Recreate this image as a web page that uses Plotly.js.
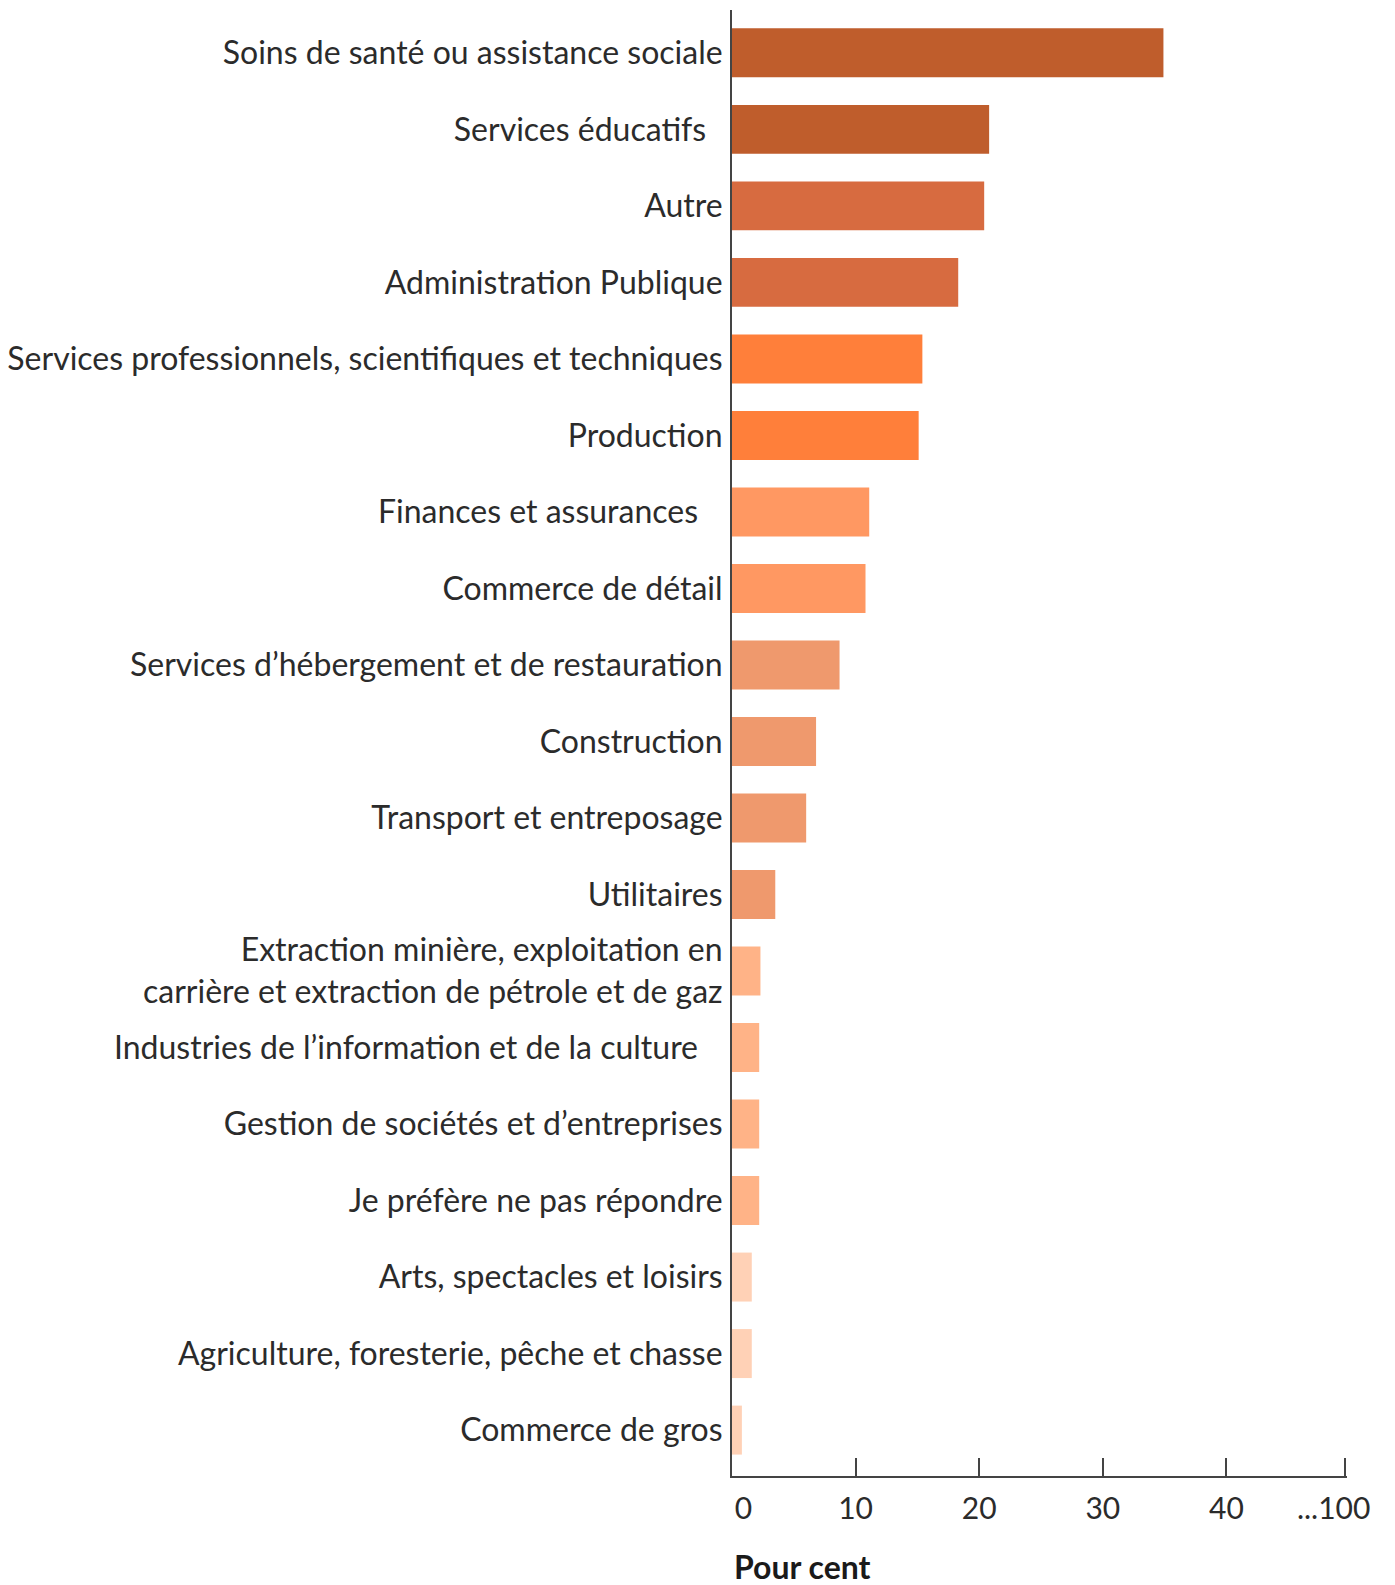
<!DOCTYPE html>
<html>
<head>
<meta charset="utf-8">
<script src="https://cdn.plot.ly/plotly-3.0.1.min.js"></script>
<style>
  html, body { margin: 0; padding: 0; background: #ffffff; }
  #chart { width: 1395px; height: 1585px; }
</style>
</head>
<body>
<div id="chart"></div>
<script>
// ---- Data ----
const categories = [
  "Soins de santé ou assistance sociale",
  "Services éducatifs",
  "Autre",
  "Administration Publique",
  "Services professionnels, scientifiques et techniques",
  "Production",
  "Finances et assurances",
  "Commerce de détail",
  "Services d’hébergement et de restauration",
  "Construction",
  "Transport et entreposage",
  "Utilitaires",
  "Extraction minière, exploitation en<br>carrière et extraction de pétrole et de gaz",
  "Industries de l’information et de la culture",
  "Gestion de sociétés et d’entreprises",
  "Je préfère ne pas répondre",
  "Arts, spectacles et loisirs",
  "Agriculture, foresterie, pêche et chasse",
  "Commerce de gros"
];

const values = [34.9, 20.8, 20.4, 18.3, 15.4, 15.1, 11.1, 10.8, 8.7, 6.8, 6.0, 3.5, 2.3, 2.2, 2.2, 2.2, 1.6, 1.6, 0.8];

const xTickValues = [0, 10, 20, 30, 40, 49.6];
const xTickLabels = ["0", "10", "20", "30", "40", "...100"];

const xAxisTitle = "Pour cent";

// ---- Styles ----
const barColors = [
  "#BF5D2C", "#BF5D2C",
  "#D76B40", "#D76B40",
  "#FF7F3A", "#FF7F3A",
  "#FF9862", "#FF9862",
  "#EF996D", "#EF996D", "#EF996D", "#EF996D",
  "#FFB387", "#FFB387", "#FFB387", "#FFB387",
  "#FFD1B6", "#FFD1B6", "#FFD1B6"
];

// small offsets of some labels, as in the original
const NB = "\u00A0";
const labelPad = {
  "Services éducatifs": NB + NB,
  "Finances et assurances": NB + NB + NB,
  "Industries de l’information et de la culture": NB + NB + NB
};
const yTickText = categories.map(c => c + (labelPad[c] || ""));
const xTickText = xTickLabels.map((t, i) =>
  i === 0 ? NB + NB + NB + t : (i === xTickLabels.length - 1 ? t + NB + NB + NB : t));

const FONT = "Lato, 'Open Sans', sans-serif";

const trace = {
  type: "bar",
  orientation: "h",
  y: categories,
  x: values,
  marker: { color: barColors, line: { width: 0 } },
  hoverinfo: "x+y"
};

const layout = {
  width: 1395,
  height: 1585,
  margin: { l: 732, r: 48, t: 10, b: 109 },
  paper_bgcolor: "#ffffff",
  plot_bgcolor: "#ffffff",
  showlegend: false,
  bargap: 0.36,
  font: { family: FONT, color: "#2b2b2b", size: 32 },
  xaxis: {
    range: [0, 49.75],
    tickmode: "array",
    tickvals: xTickValues,
    ticktext: xTickText,
    ticks: "inside",
    ticklen: 18,
    tickwidth: 2,
    tickcolor: "#444",
    showline: true,
    linecolor: "#444",
    linewidth: 2,
    showgrid: false,
    zeroline: false,
    tickfont: { family: FONT, size: 30, color: "#2b2b2b" },
    ticklabelstandoff: 5,
    ticklabeloverflow: "allow",
    fixedrange: true
  },
  yaxis: {
    type: "category",
    categoryorder: "array",
    categoryarray: categories,
    range: [18.6, -0.56],
    tickmode: "array",
    tickvals: categories,
    ticktext: yTickText,
    ticks: "outside",
    ticklen: 1,
    tickcolor: "rgba(0,0,0,0)",
    showline: true,
    linecolor: "#444",
    linewidth: 2,
    showgrid: false,
    zeroline: false,
    tickfont: { family: FONT, size: 32, color: "#2b2b2b" },
    fixedrange: true
  },
  annotations: [
    {
      text: "<b>" + xAxisTitle + "</b>",
      xref: "paper", yref: "paper",
      x: 0, y: -0.062,
      xanchor: "left", yanchor: "middle",
      showarrow: false,
      font: { family: FONT, size: 32, color: "#1a1a1a" }
    }
  ]
};

Plotly.newPlot("chart", [trace], layout, { displayModeBar: false, staticPlot: true });
</script>
</body>
</html>
